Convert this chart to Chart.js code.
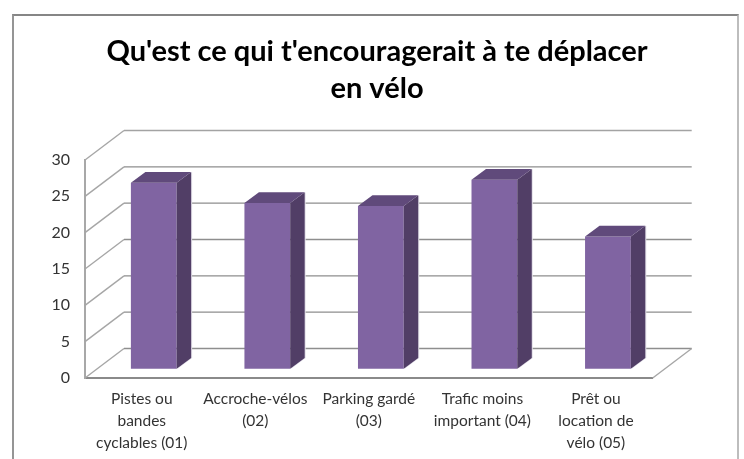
<!DOCTYPE html>
<html lang="fr">
<head>
<meta charset="utf-8">
<title>Qu'est ce qui t'encourageait à te déplacer en vélo</title>
<script src="https://cdn.jsdelivr.net/npm/chart.js@4"></script>
<style>
  html, body { margin: 0; padding: 0; background: #fff; overflow: hidden; }
  #frame { position: absolute; left: 12px; top: 14px; width: 723px; height: 445px;
    border-top: 2px solid #868686; border-left: 2px solid #959595; border-right: 2px solid #bdbdbd; }
  canvas { position: absolute; left: 0; top: 0; }
</style>
</head>
<body>
<div id="frame"></div>
<canvas id="chart" width="744" height="459"></canvas>
<script>
'use strict';

const titleLines = ["Qu'est ce qui t'encouragerait à te déplacer", 'en vélo'];
const categories = [
  ['Pistes ou', 'bandes', 'cyclables (01)'],
  ['Accroche-vélos', '(02)'],
  ['Parking gardé', '(03)'],
  ['Trafic moins', 'important (04)'],
  ['Prêt ou', 'location de', 'vélo (05)'],
];
const values = [25.6, 22.8, 22.4, 26, 18.2];
const yTicks = [0, 5, 10, 15, 20, 25, 30];

// décalage de la perspective 3D
const wallDepth = { x: 39, y: -29.5 };
const barShift = { x: 12, y: -9.3 };
const barDepth = { x: 14.5, y: -10.7 };

function polygon(ctx, points, color) {
  ctx.fillStyle = color;
  ctx.beginPath();
  points.forEach((p, i) => (i ? ctx.lineTo(p[0], p[1]) : ctx.moveTo(p[0], p[1])));
  ctx.closePath();
  ctx.fill();
}

const perspective = {
  id: 'perspective',
  beforeDatasetsDraw(chart) {
    const { ctx, chartArea: area, scales: { y } } = chart;
    ctx.save();
    ctx.lineWidth = 1.4;
    yTicks.forEach(v => {
      const py = y.getPixelForValue(v);
      // mur de gauche
      ctx.strokeStyle = '#a6a6a6';
      ctx.beginPath();
      ctx.moveTo(area.left, py);
      ctx.lineTo(area.left + wallDepth.x, py + wallDepth.y);
      ctx.stroke();
      // mur du fond
      ctx.strokeStyle = v === 30 ? '#a3a3a3' : '#8e8e8e';
      ctx.beginPath();
      ctx.moveTo(area.left + wallDepth.x, py + wallDepth.y);
      ctx.lineTo(area.right + wallDepth.x, py + wallDepth.y);
      ctx.stroke();
    });
    // bord droit du sol
    ctx.strokeStyle = '#a6a6a6';
    ctx.beginPath();
    ctx.moveTo(area.right, area.bottom);
    ctx.lineTo(area.right + wallDepth.x, area.bottom + wallDepth.y);
    ctx.stroke();
    ctx.restore();

    ctx.save();
    ctx.translate(barShift.x, barShift.y);
  },
  afterDatasetsDraw(chart) {
    const { ctx } = chart;
    ctx.restore();
    chart.getDatasetMeta(0).data.forEach(bar => {
      const left = bar.x - bar.width / 2 + barShift.x;
      const right = bar.x + bar.width / 2 + barShift.x;
      const top = bar.y + barShift.y;
      const bottom = bar.base + barShift.y;
      const dx = barDepth.x;
      const dy = barDepth.y;
      polygon(ctx, [[right + 1, top], [right + dx + 1, top + dy], [right + dx + 1, bottom + dy], [right + 1, bottom]], '#e2dfe8');
      polygon(ctx, [[right, top], [right + dx, top + dy], [right + dx, bottom + dy], [right, bottom]], '#513e66');
      polygon(ctx, [[left, top], [left + dx, top + dy], [right + dx, top + dy], [right, top]], '#604a7b');
    });
  },
};

new Chart(document.getElementById('chart'), {
  type: 'bar',
  data: {
    labels: categories,
    datasets: [{
      data: values,
      backgroundColor: '#8064a2',
      borderWidth: 0,
      barPercentage: 0.403,
      categoryPercentage: 1,
      clip: false,
    }],
  },
  options: {
    responsive: false,
    animation: false,
    layout: { padding: { left: 10, right: 0, top: 0, bottom: 0 } },
    plugins: {
      legend: { display: false },
      tooltip: { enabled: false },
      title: {
        display: true,
        text: titleLines,
        color: '#000',
        font: { family: 'Lato', size: 29, weight: 'bold', lineHeight: 1.276 },
        padding: { top: 33, bottom: 53 },
      },
    },
    scales: {
      x: {
        grid: { display: false },
        border: { color: '#8a8a8a', width: 2 },
        afterFit: s => { s.height = 81; },
        ticks: {
          color: '#333',
          autoSkip: false,
          maxRotation: 0,
          padding: 2,
          font: { family: 'Lato', size: 15.5, lineHeight: 1.42 },
        },
      },
      y: {
        min: 0,
        max: 30,
        grid: { display: false },
        border: { color: '#a8a8a8', width: 2 },
        afterFit: s => { s.width = 75; },
        ticks: {
          stepSize: 5,
          color: '#333',
          padding: 7,
          font: { family: 'Lato', size: 16 },
        },
      },
      // réserve la marge droite pour que le titre reste centré sur toute la largeur
      spacer: {
        position: 'right',
        grid: { display: false },
        border: { display: false },
        ticks: { display: false },
        afterFit: s => { s.width = 91.3; },
      },
    },
  },
  plugins: [perspective],
});
</script>
</body>
</html>
